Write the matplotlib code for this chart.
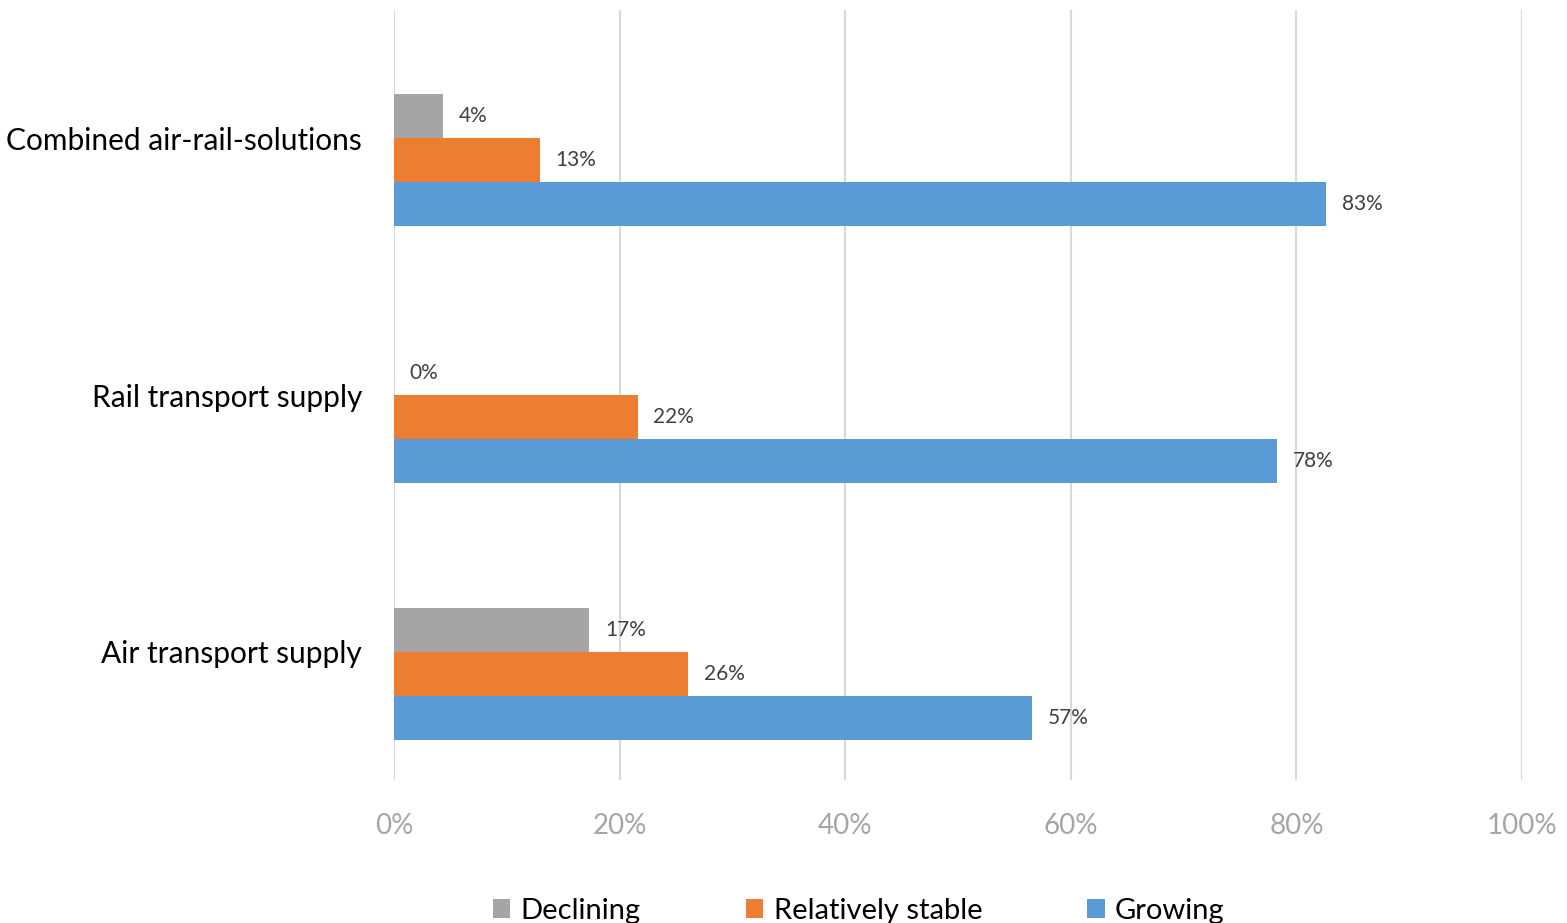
import matplotlib.pyplot as plt
import numpy as np

categories = ["Air transport supply", "Rail transport supply", "Combined air-rail-solutions"]
series = ["Declining", "Relatively stable", "Growing"]
declining = [17.3, 0.0, 4.3]
stable = [26.1, 21.6, 12.9]
growing = [56.6, 78.3, 82.6]
colors = ["#a5a5a5", "#ed7d31", "#5b9bd5"]

plt.rcParams['font.family'] = ['Lato', 'DejaVu Sans']

fig = plt.figure(figsize=(15.67, 9.23), dpi=100)
ax = fig.add_axes([394 / 1567, 1 - 780 / 923, 1128 / 1567, 770 / 923])

y = np.arange(len(categories))
h = 0.171
offsets = [0.0856, -0.0856, -0.257]
for vals, off, col, name in zip([declining, stable, growing], offsets, colors, series):
    bars = ax.barh(y + off, vals, height=h, color=col, label=name, zorder=3)
    for b, v in zip(bars, vals):
        ax.text(b.get_width() + 1.4, b.get_y() + h / 2, f"{round(v):.0f}%",
                va="center", ha="left", fontsize=15, color="#404040")

ax.set_xlim(0, 100)
ax.set_ylim(-0.5, 2.5)
ax.set_xticks(np.arange(0, 101, 20))
ax.set_xticklabels([f"{t}%" for t in range(0, 101, 20)])
ax.set_yticks(y)
ax.set_yticklabels(categories)
ax.tick_params(axis="x", length=0, labelsize=20, labelcolor="#a6a6a6", pad=24)
ax.tick_params(axis="y", length=0, labelsize=21.5, labelcolor="black", pad=23)
ax.grid(axis="x", color="#d9d9d9", linewidth=1.5, zorder=0)
for s in ax.spines.values():
    s.set_visible(False)

handles, labels = ax.get_legend_handles_labels()
fig.legend(handles, labels, loc="center", bbox_to_anchor=(0.548, 1 - 911 / 923), ncol=3,
           frameon=False, fontsize=21, handlelength=0.6, handleheight=0.6,
           handletextpad=0.35, columnspacing=3.6)

fig.savefig("out.png", dpi=100)
